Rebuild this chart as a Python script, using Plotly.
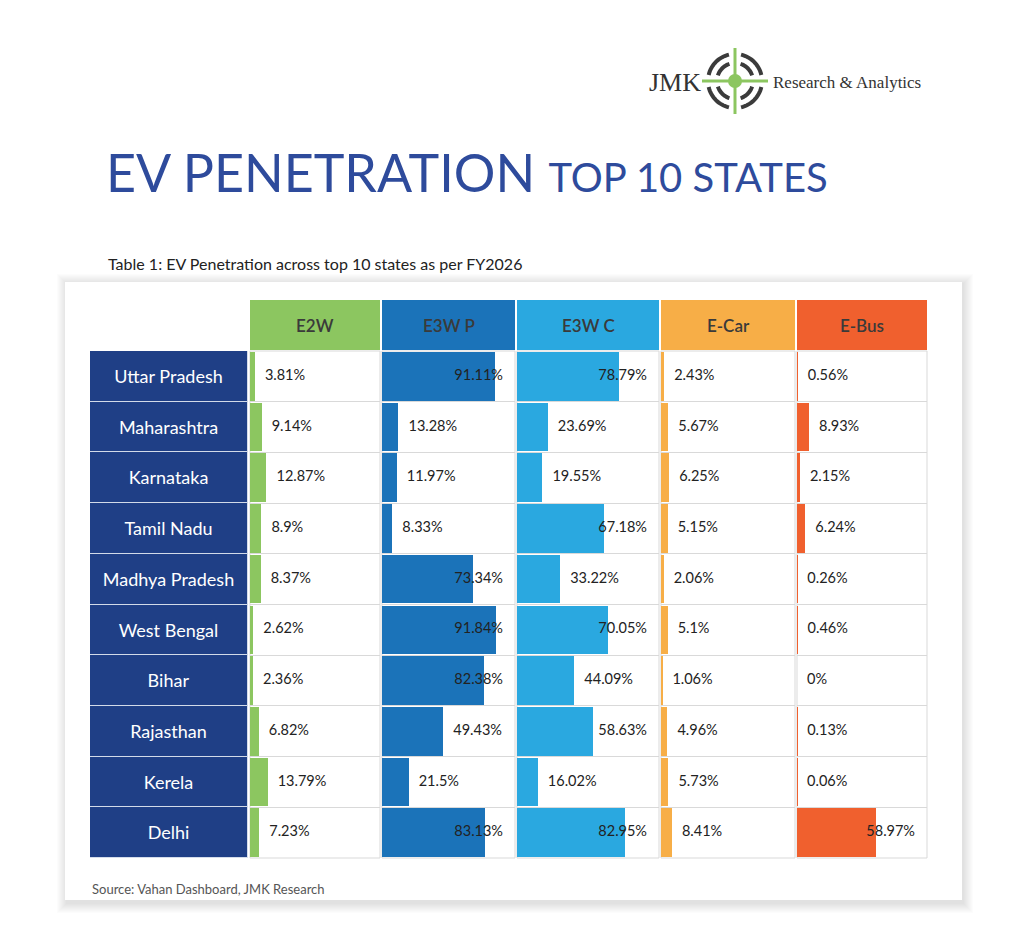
import math
import plotly.graph_objects as go

W, H = 1024, 943
OFF = 8  # page body margin offset


def X(px):
    return (px - OFF) / W


def Y(py):
    return 1 - (py - OFF) / H


# ---------------- data ----------------
states = ["Uttar Pradesh", "Maharashtra", "Karnataka", "Tamil Nadu", "Madhya Pradesh",
          "West Bengal", "Bihar", "Rajasthan", "Kerela", "Delhi"]
categories = ["E2W", "E3W P", "E3W C", "E-Car", "E-Bus"]
e2w = [3.81, 9.14, 12.87, 8.9, 8.37, 2.62, 2.36, 6.82, 13.79, 7.23]
e3w_p = [91.11, 13.28, 11.97, 8.33, 73.34, 91.84, 82.38, 49.43, 21.5, 83.13]
e3w_c = [78.79, 23.69, 19.55, 67.18, 33.22, 70.05, 44.09, 58.63, 16.02, 82.95]
e_car = [2.43, 5.67, 6.25, 5.15, 2.06, 5.1, 1.06, 4.96, 5.73, 8.41]
e_bus = [0.56, 8.93, 2.15, 6.24, 0.26, 0.46, 0, 0.13, 0.06, 58.97]
series = [e2w, e3w_p, e3w_c, e_car, e_bus]

# ---------------- styling / layout ----------------
colors = ["#8cc660", "#1b73b9", "#2aa8e0", "#f7ae47", "#f0602e"]
col_px = [(250, 380), (382, 515), (517, 659), (661, 795), (797, 927)]
px_per_unit = [1.28, 1.24, 1.30, 1.30, 1.34]
state_px = (90, 248)
row_top, row_bot = 351, 858
head_top, head_bot = 300, 350
navy = "#1f3f86"
title_blue = "#2e4b9c"
FONT = "Lato, 'Open Sans', sans-serif"

fig = go.Figure()

# state label column (bar trace)
fig.add_trace(go.Bar(
    x=[1] * len(states), y=states, orientation="h", width=1,
    marker=dict(color=navy, line=dict(color="rgba(220,226,238,0.9)", width=1)),
    text=states, textposition="inside", insidetextanchor="middle",
    textfont=dict(color="white", size=18, family=FONT),
    xaxis="x", yaxis="y", hoverinfo="skip", showlegend=False,
))


def text_w(s, size=14.5):
    w = 0
    for ch in s:
        if ch.isdigit():
            w += 0.58
        elif ch == ".":
            w += 0.26
        elif ch == "%":
            w += 0.83
        else:
            w += 0.5
    return w * size


for i, (vals, col) in enumerate(zip(series, colors)):
    ax = "x%d" % (i + 2)
    colw = col_px[i][1] - col_px[i][0]
    k = px_per_unit[i]
    fig.add_trace(go.Bar(
        x=vals, y=states, orientation="h", width=0.96,
        marker=dict(color=col, line=dict(width=0)),
        xaxis=ax, yaxis="y", hoverinfo="skip", showlegend=False,
    ))
    labels = [f"{v:g}%" for v in vals]
    xs, pos = [], []
    for v, t in zip(vals, labels):
        left = v * k + 10
        if left + text_w(t) > colw - 10:
            xs.append((colw - 12) / k)
            pos.append("middle left")
        else:
            xs.append(left / k)
            pos.append("middle right")
    fig.add_trace(go.Scatter(
        x=xs, y=states, mode="text", text=labels, textposition=pos,
        textfont=dict(size=14.5, color="#222222", family=FONT),
        xaxis=ax, yaxis="y", hoverinfo="skip", showlegend=False, cliponaxis=False,
    ))

layout_axes = {}
layout_axes["xaxis"] = dict(domain=[X(state_px[0]), X(state_px[1])], range=[0, 1],
                            visible=False, anchor="y", fixedrange=True)
for i in range(5):
    colw = col_px[i][1] - col_px[i][0]
    layout_axes["xaxis%d" % (i + 2)] = dict(
        domain=[X(col_px[i][0]), X(col_px[i][1])], range=[0, colw / px_per_unit[i]],
        showgrid=False, zeroline=False, showticklabels=False, ticks="",
        showline=False, anchor="y", fixedrange=True)

fig.update_layout(
    width=W, height=H, margin=dict(l=0, r=0, t=0, b=0),
    paper_bgcolor="white", plot_bgcolor="rgba(0,0,0,0)",
    bargap=0, barmode="overlay",
    yaxis=dict(domain=[Y(row_bot), Y(row_top)], type="category",
               categoryorder="array", categoryarray=states,
               range=[len(states) - 0.5, -0.5],
               showgrid=True, gridcolor="#d9d9d9", gridwidth=1, tickson="boundaries",
               showticklabels=False, ticks="", zeroline=False, showline=False,
               anchor="x", fixedrange=True),
    **layout_axes,
)

shapes = []
# card shadow + card
for s in range(10, 0, -1):
    shapes.append(dict(type="rect", xref="paper", yref="paper", layer="below",
                       x0=X(65 - s + 2), x1=X(962 + s + 1), y0=Y(900 + s + 3), y1=Y(282 - s + 2),
                       line=dict(width=0), fillcolor="rgba(0,0,0,0.012)"))
shapes.append(dict(type="rect", xref="paper", yref="paper", layer="below",
                   x0=X(65), x1=X(962), y0=Y(900), y1=Y(282),
                   line=dict(width=0), fillcolor="white"))
# cell borders
for i in range(5):
    shapes.append(dict(type="rect", xref="x%d domain" % (i + 2), yref="y domain",
                       x0=0, x1=1, y0=0, y1=1, layer="below",
                       line=dict(color="#d9d9d9", width=1)))
# header cells
for i, (c, col) in enumerate(zip(categories, colors)):
    shapes.append(dict(type="rect", xref="paper", yref="paper",
                       x0=X(col_px[i][0]), x1=X(col_px[i][1]), y0=Y(head_bot), y1=Y(head_top),
                       line=dict(width=0), fillcolor=col))

# logo
cx, cy = 735, 81
logo_gray = "#3b3b3b"
logo_green = "#8cc660"


def arc(r, a0, a1, n=16):
    pts = []
    for j in range(n + 1):
        a = math.radians(a0 + (a1 - a0) * j / n)
        pts.append((X(cx + r * math.cos(a)), Y(cy - r * math.sin(a))))
    return "M " + " L ".join(f"{px:.5f},{py:.5f}" for px, py in pts)


for r, gap in [(27, 13), (18, 18)]:
    for q in range(4):
        shapes.append(dict(type="path", xref="paper", yref="paper",
                           path=arc(r, q * 90 + gap, q * 90 + 90 - gap),
                           line=dict(color=logo_gray, width=4)))
shapes.append(dict(type="line", xref="paper", yref="paper",
                   x0=X(702), x1=X(768), y0=Y(cy), y1=Y(cy),
                   line=dict(color=logo_green, width=3)))
shapes.append(dict(type="line", xref="paper", yref="paper",
                   x0=X(cx), x1=X(cx), y0=Y(48), y1=Y(114),
                   line=dict(color=logo_green, width=3)))
shapes.append(dict(type="circle", xref="paper", yref="paper",
                   x0=X(cx - 7), x1=X(cx + 7), y0=Y(cy + 7), y1=Y(cy - 7),
                   line=dict(width=0), fillcolor=logo_green))

fig.update_layout(shapes=shapes)

ann = []
for i, c in enumerate(categories):
    ann.append(dict(text=c, xref="paper", yref="paper",
                    x=X((col_px[i][0] + col_px[i][1]) / 2), y=Y((head_top + head_bot) / 2),
                    xanchor="center", yanchor="middle", showarrow=False,
                    font=dict(size=17, color="#3a3a3a", family=FONT, weight=600)))
ann.append(dict(text="EV PENETRATION <span style='font-size:40px'>TOP 10 STATES</span>",
                xref="paper", yref="paper", x=X(104), y=Y(172), xanchor="left", yanchor="middle",
                showarrow=False, font=dict(size=52, color=title_blue, family=FONT)))
ann.append(dict(text="Table 1: EV Penetration across top 10 states as per FY2026",
                xref="paper", yref="paper", x=X(106), y=Y(263), xanchor="left", yanchor="middle",
                showarrow=False, font=dict(size=16, color="#222222", family=FONT)))
ann.append(dict(text="Source: Vahan Dashboard, JMK Research",
                xref="paper", yref="paper", x=X(90), y=Y(889), xanchor="left", yanchor="middle",
                showarrow=False, font=dict(size=13, color="#555555", family=FONT)))
ann.append(dict(text="JMK", xref="paper", yref="paper", x=X(647), y=Y(82),
                xanchor="left", yanchor="middle", showarrow=False,
                font=dict(size=26, color="#333333", family="'Liberation Serif', 'DejaVu Serif', serif")))
ann.append(dict(text="Research &amp; Analytics", xref="paper", yref="paper", x=X(771), y=Y(82),
                xanchor="left", yanchor="middle", showarrow=False,
                font=dict(size=17, color="#333333", family="'Liberation Serif', 'DejaVu Serif', serif")))
fig.update_layout(annotations=ann)

fig.write_html("out.html")
